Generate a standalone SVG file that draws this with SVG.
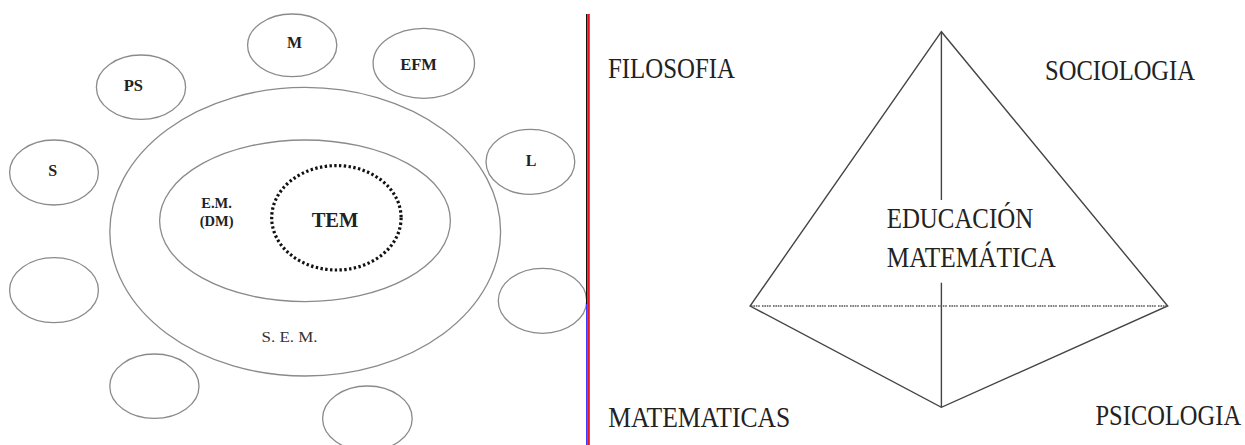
<svg xmlns="http://www.w3.org/2000/svg" width="1245" height="445" viewBox="0 0 1245 445">
<style>
.bub{fill:none;stroke:#8a8a8a;stroke-width:1.3}
.big{fill:none;stroke:#8a8a8a;stroke-width:1.3}
.lb{font-family:"Liberation Serif",serif;font-weight:bold;fill:#222;text-anchor:middle}
.reg{font-family:"Liberation Serif",serif;font-weight:normal;fill:#333;text-anchor:middle}
.rt{font-family:"Liberation Serif",serif;fill:#222}
.edge{stroke:#444;stroke-width:1.4;fill:none}
</style>
<rect width="1245" height="445" fill="#fff"/>
<g id="left-panel">
<g id="sem"><ellipse class="big" cx="305.2" cy="231.7" rx="195.4" ry="144.3"/><text class="reg" x="289.5" y="342" font-size="14" textLength="56" lengthAdjust="spacingAndGlyphs">S. E. M.</text></g>
<g id="em"><ellipse class="big" cx="305" cy="220.8" rx="145.4" ry="80.8"/><text class="lb" x="216.6" y="208" font-size="14.5">E.M.</text><text class="lb" x="216.6" y="226" font-size="14.5">(DM)</text></g>
<g id="tem"><ellipse cx="336.4" cy="217.8" rx="64.7" ry="52.2" fill="none" stroke="#111" stroke-width="3.2" stroke-dasharray="2.4 2.4"/><text class="lb" x="335" y="227" font-size="20.5">TEM</text></g>
<g id="node-m"><ellipse class="bub" cx="292.2" cy="45.3" rx="44.6" ry="31.3"/><text class="lb" x="294.5" y="48.3" font-size="16">M</text></g>
<g id="node-efm"><ellipse class="bub" cx="423.8" cy="63.3" rx="50.7" ry="35"/><text class="lb" x="418.5" y="70" font-size="16.5">EFM</text></g>
<g id="node-ps"><ellipse class="bub" cx="141" cy="87.2" rx="44.6" ry="32.2"/><text class="lb" x="133.4" y="91" font-size="16.5">PS</text></g>
<g id="node-s"><ellipse class="bub" cx="54" cy="172.5" rx="44.4" ry="32.5"/><text class="lb" x="52.6" y="176" font-size="16">S</text></g>
<g id="node-l"><ellipse class="bub" cx="530.4" cy="161.8" rx="44.4" ry="32.5"/><text class="lb" x="531" y="165.7" font-size="16">L</text></g>
<g id="node-e1"><ellipse class="bub" cx="54" cy="290.2" rx="44.4" ry="32.5"/></g>
<g id="node-e2"><ellipse class="bub" cx="542.5" cy="300.8" rx="44.2" ry="32.5"/></g>
<g id="node-e3"><ellipse class="bub" cx="154.4" cy="386.2" rx="44.6" ry="32.2"/></g>
<g id="node-e4"><ellipse class="bub" cx="367.4" cy="418.5" rx="44.8" ry="32.5"/></g>
</g>
<g id="divider">
<rect x="586" y="14" width="1.2" height="290" fill="#111"/>
<rect x="586" y="304" width="1.2" height="141" fill="#3a3aff"/>
<rect x="587.2" y="14" width="2.6" height="431" fill="#e8141c"/>
</g>
<g id="connectors">
<path class="edge" d="M941.4 31.7 L750.1 306 L941.4 407.3 L1167.7 306 Z"/>
<line class="edge" x1="941.4" y1="31.7" x2="941.4" y2="200"/>
<line class="edge" x1="941.4" y1="282.7" x2="941.4" y2="407.3"/>
<line x1="751" y1="306" x2="1167" y2="306" stroke="#555" stroke-width="1.6" stroke-dasharray="1.6 0.8 1.6 0.8 1.6 0.8 1.6 2.2"/>
</g>
<g id="node-filosofia"><text class="rt" x="608" y="78.3" font-size="28.5" textLength="127" lengthAdjust="spacingAndGlyphs">FILOSOFIA</text></g>
<g id="node-sociologia"><text class="rt" x="1045" y="80" font-size="28.5" textLength="150" lengthAdjust="spacingAndGlyphs">SOCIOLOGIA</text></g>
<g id="node-educacion"><text class="rt" x="886.7" y="227.7" font-size="30" textLength="146.5" lengthAdjust="spacingAndGlyphs">EDUCACIÓN</text><text class="rt" x="886.7" y="266.7" font-size="30" textLength="169" lengthAdjust="spacingAndGlyphs">MATEMÁTICA</text></g>
<g id="node-matematicas"><text class="rt" x="608.2" y="426.7" font-size="30" textLength="182" lengthAdjust="spacingAndGlyphs">MATEMATICAS</text></g>
<g id="node-psicologia"><text class="rt" transform="translate(1095.5 425) scale(1 1.2)" x="0" y="0" font-size="24.5">PSICOLOGIA</text></g>
</svg>
